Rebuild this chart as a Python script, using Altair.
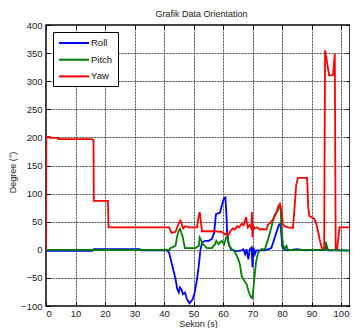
import altair as alt
import pandas as pd

series_names = ["Roll", "Pitch", "Yaw"]
series_colors = ["#0000FF", "#008000", "#FF0000"]

roll_t = [0, 15.8, 16.2, 31.8, 32.2, 41.1, 41.7, 42.8, 43.9, 44.5, 45.0, 45.4, 45.9, 46.4, 47.1,
          47.8, 48.6, 49.3, 49.7, 50.4, 51.2, 51.8, 52.3, 52.9, 54.0, 55.1, 56.2, 57.0, 57.6, 58.3,
          59.0, 59.7, 60.3, 60.8, 61.1, 61.4, 61.8, 62.7, 64.1, 65.8, 66.9, 67.5, 68.0, 68.6, 69.1,
          69.7, 70.0, 70.3, 70.8, 71.3, 74.2, 76.4, 77.0, 78.1, 79.0, 79.5, 80.1, 80.7, 82.0, 85.0,
          88.0, 91.5, 94.6, 95.1, 95.6, 100.0, 105.0]
roll_v = [-2, -2, 1, 1, -1, -1, -5, -28, -52, -70, -76, -67, -70, -79, -76,
          -88, -95, -91, -88, -76, -52, -28, -2, 13, 16, 16, 19, 30, 63, 65,
          66, 81, 91, 93, 70, 30, 13, 1, -2, -2, 1, -8, 1, -17, 1,
          4, -31, 4, -8, -1, -1, 3, 13, 31, 45, 46, 6, 0, -1, 1,
          -1, 0, 0, 7, -1, -1, -2]

pitch_t = [0, 41.7, 42.2, 43.9, 44.5, 45.0, 45.4, 45.9, 46.4, 46.7, 47.1, 50.6, 51.8, 52.1, 52.7,
           53.2, 54.6, 56.2, 57.3, 57.7, 58.5, 59.0, 59.6, 60.4, 61.1, 61.5, 62.1, 63.0, 64.1, 65.2,
           65.8, 66.3, 67.2, 68.0, 68.6, 69.5, 70.0, 70.6, 71.2, 71.9, 73.0, 74.2, 75.3, 76.4, 77.0,
           77.5, 78.4, 78.9, 79.5, 79.8, 80.3, 80.9, 81.5, 82.0, 90.0, 94.5, 94.9, 95.3, 100.0, 105.0]
pitch_v = [0, 0, 3, 7, 25, 34, 37, 30, 22, 13, 3, 3, 7, 22, 16,
           10, 3, 3, 10, 16, 10, 13, 16, 10, 22, 25, 7, 1, -4, -17,
           -28, -46, -55, -61, -73, -85, -86, -52, -22, -5, 1, 1, 19, 40, 54,
           62, 68, 75, 76, 40, 10, 1, 7, 0, 0, 0, 14, 0, -1, -1]

yaw_t = [0, 0.1, 1.3, 1.4, 4.1, 4.2, 15.6, 15.9, 16.1, 16.2, 21.0, 21.2, 41.7, 42.6, 43.9,
         45.0, 45.6, 46.5, 47.2, 48.5, 51.2, 51.8, 52.1, 52.9, 56.8, 59.6, 60.7, 61.3, 61.8, 62.5,
         63.3, 64.0, 64.8, 65.5, 66.3, 67.0, 67.8, 68.4, 69.0, 69.6, 69.8, 70.0, 70.3, 70.8, 71.5,
         72.5, 73.5, 74.7, 75.3, 76.0, 77.0, 78.1, 78.8, 79.3, 79.8, 80.3, 80.9, 82.0, 83.7, 84.2,
         84.8, 85.4, 88.5, 88.9, 89.3, 90.4, 91.0, 91.5, 92.1, 92.8, 93.5, 94.3, 94.6, 96.0, 97.3,
         97.9, 98.2, 98.7, 99.5, 105.0]
yaw_v = [0, 201, 201, 199, 199, 197, 197, 195, 195, 87, 87, 40, 40, 30, 32,
         47, 52, 38, 42, 40, 40, 62, 67, 33, 33, 32, 27, 30, 26, 33,
         38, 36, 42, 40, 46, 44, 58, 40, 44, 38, 67, 22, 42, 38, 40,
         36, 37, 36, 45, 48, 54, 66, 78, 82, 70, 45, 42, 40, 39, 70,
         115, 128, 128, 75, 60, 57, 55, 48, 36, 18, 3, 2, 355, 310, 311,
         349, 2, 2, 40, 40]

x_ticks = list(range(0, 101, 10))
y_ticks = list(range(-100, 401, 50))
x_domain = [0, 103.05]
y_domain = [-100, 400]

frames = []
for name, ts, vs in [("Roll", roll_t, roll_v), ("Pitch", pitch_t, pitch_v), ("Yaw", yaw_t, yaw_v)]:
    frames.append(pd.DataFrame({"t": ts, "v": vs, "series": name}))
df = pd.concat(frames, ignore_index=True)

FONT = "Liberation Sans"
x_scale = alt.Scale(domain=x_domain, nice=False, zero=False)
y_scale = alt.Scale(domain=y_domain, nice=False, zero=False)
inward = {"expr": "-4"}

base = alt.Chart(df)

lines = base.mark_line(strokeWidth=1.8, clip=True).encode(
    x=alt.X("t:Q", scale=x_scale, axis=alt.Axis(
        orient="bottom", values=x_ticks, title="Sekon (s)", format="d",
        tickSize=inward, labelPadding=6.5, titleY=20.3, titleBaseline="alphabetic",
        grid=True, domain=False)),
    y=alt.Y("v:Q", scale=y_scale, axis=alt.Axis(
        orient="left", values=y_ticks, title="Degree (°)", format="d",
        tickSize=inward, labelPadding=8, titleX=-29, titleY=147, titleBaseline="bottom",
        grid=True, domain=False)),
    color=alt.Color("series:N", scale=alt.Scale(domain=series_names, range=series_colors),
                    sort=series_names,
                    legend=alt.Legend(title=None, orient="none", legendX=7, legendY=7,
                                      symbolType="M-1,0H5", symbolSize=100, symbolStrokeWidth=2,
                                      labelFontSize=9.5, labelFont=FONT, labelColor="#111",
                                      labelOffset=21, padding=5, rowPadding=5.7,
                                      strokeColor="black", fillColor="white",
                                      direction="vertical")),
)

mirror = base.mark_line(opacity=0, clip=True).encode(
    x=alt.X("t:Q", scale=x_scale, axis=alt.Axis(
        orient="top", values=x_ticks, title="Grafik Data Orientation", labels=False,
        grid=False, domain=False, tickSize=inward,
        titleX=155, titleY=-8.4, titleBaseline="alphabetic", titleFontSize=9)),
    y=alt.Y("v:Q", scale=y_scale, axis=alt.Axis(
        orient="right", values=y_ticks, title=None, labels=False, grid=False,
        domain=False, tickSize=inward)),
    detail="series:N",
)

chart = alt.layer(lines, mirror).resolve_axis(
    x="independent", y="independent"
).properties(
    width=304, height=281,
    padding={"left": 38, "top": 17, "right": 0, "bottom": 22},
    autosize=alt.AutoSizeParams(type="none"),
    background="white",
).configure_view(
    stroke="black", strokeWidth=1.5
).configure_axis(
    labelFont=FONT, labelFontSize=9.5, labelColor="#222",
    titleFont=FONT, titleFontSize=9, titleFontWeight="normal", titleColor="#222",
    tickColor="black", tickWidth=1,
    gridColor="#4d4d4d", gridWidth=1, gridDash=[2, 1], gridOpacity=1,
)

chart.save("out.html", embed_options={"renderer": "svg", "actions": False})
